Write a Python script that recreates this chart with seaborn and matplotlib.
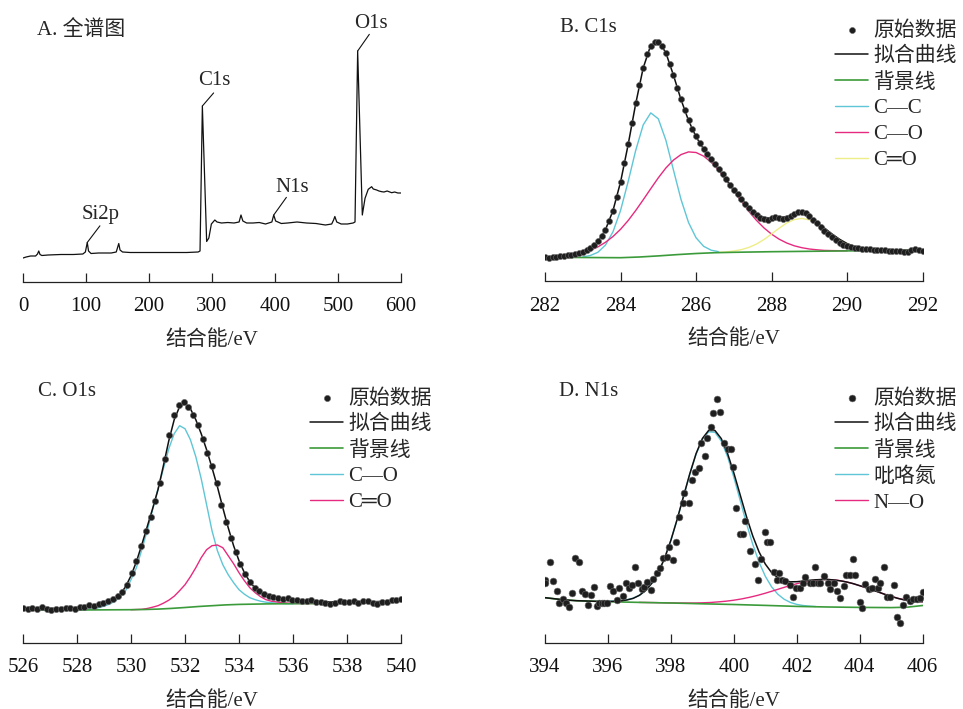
import numpy as np
import matplotlib
matplotlib.use('Agg')
import matplotlib.pyplot as plt
import seaborn as sns

# ---------------- A. survey spectrum (binding energy / eV, intensity a.u.) ----------------
survey_ev = [0, 5, 12, 20, 23, 25, 27, 30, 40, 60, 80, 95, 99, 102, 104, 108, 120, 140, 148, 152,
             154, 158, 170, 200, 230, 260, 278, 281, 284.7, 291.5, 295, 299, 304.5, 308, 315, 325,
             335, 343, 346, 349, 355, 365, 375, 385, 395, 398, 401, 410, 420, 435, 450, 465, 480,
             490, 493, 495, 498, 505, 515, 524, 527, 531.2, 538.6, 542.9, 548, 553.4, 556, 561.4,
             565, 569.4, 573, 578, 585.2, 590, 595, 600]
survey_int = [24, 25, 26, 26, 28, 31, 27.5, 26.5, 27, 27.5, 27.5, 28, 30, 39.5, 31, 28.5, 29, 29, 30, 38.5,
              32, 30, 29.5, 29.5, 29.5, 29.5, 30, 31, 176, 40.5, 44, 58, 62, 60, 59, 59.5,
              59, 60, 67, 61, 59, 59, 59.5, 58, 60, 67, 61, 58.5, 59, 60, 59, 58.5, 57,
              58, 62, 65.5, 60, 58, 58, 59, 60, 231, 67, 83.7, 92.7, 95.3, 93, 92,
              91, 90.3, 90, 91, 89.3, 90, 89, 89]
survey_peaks = {'Si2p': 102, 'C1s': 284.7, 'N1s': 398, 'O1s': 531.2}

# ---------------- B. C1s ----------------
c1s_ev = np.round(np.arange(282.0, 292.01, 0.1), 2)
c1s_raw = [24.0, 23.5, 24.6, 24.2, 25.5, 25.0, 26.3, 26.8, 27.8, 28.0,
           29.6, 31.0, 33.5, 36.0, 40.5, 45.0, 51.0, 60.0, 70.0, 84.0,
           99.0, 118.0, 137.0, 158.0, 178.0, 197.0, 214.0, 228.0, 236.0, 240.0,
           239.5, 236.0, 229.0, 218.0, 207.0, 194.0, 182.0, 171.0, 161.0, 152.0,
           145.0, 138.5, 132.5, 127.0, 122.0, 117.0, 112.0, 107.0, 102.0, 96.5,
           91.5, 87.0, 82.0, 77.5, 73.0, 69.5, 66.5, 63.5, 62.0, 61.5,
           63.0, 64.0, 63.0, 62.0, 63.5, 65.5, 67.5, 69.0, 69.5, 68.0,
           65.0, 61.5, 58.5, 54.0, 50.5, 47.0, 44.0, 41.0, 38.5, 36.5,
           35.5, 34.0, 33.5, 33.0, 32.5, 32.0, 32.3, 31.5, 31.8, 31.0,
           31.3, 30.5, 30.8, 30.0, 30.4, 29.5, 29.8, 31.5, 32.0, 31.0,
           30.5]
c1s_fit_ev = np.round(np.arange(282.0, 292.01, 0.2), 2)
c1s_fit = [24.6, 24.9, 25.3, 26.1, 27.3, 29.4, 33.3, 39.9, 51.7, 70.9,
           99.4, 136.6, 177.5, 213.6, 236.3, 240.8, 228.7, 206.4, 182.0, 161.0,
           144.7, 132.3, 122.0, 112.1, 101.9, 91.8, 82.6, 74.0, 67.5, 64.0,
           63.5, 64.0, 65.0, 67.0, 67.8, 65.0, 59.3, 53.4, 47.5, 42.2,
           37.9, 34.9, 33.0, 31.9, 31.4, 31.2, 31.1, 31.2, 31.2, 31.3,
           31.4]
c1s_bg_ev = [282, 283, 284, 284.5, 285, 285.5, 286, 286.5, 287, 288, 289, 290, 291, 292]
c1s_bg = [24.2, 24.0, 23.8, 24.5, 25.6, 26.9, 28.0, 28.8, 29.2, 29.8, 30.2, 30.6, 31.0, 31.4]
c1s_cc_ev = np.round(np.arange(283.0, 286.61, 0.2), 2)
c1s_cc = [24.6, 26.0, 29.2, 36.4, 49.7, 71.0, 99.7, 130.9, 156.6, 168.6,
          162.7, 141.3, 111.6, 82.2, 59.0, 43.7, 35.2, 31.3, 29.8]
c1s_co_ev = np.round(np.arange(282.0, 290.01, 0.2), 2)
c1s_co = [24.6, 24.9, 25.3, 26.0, 27.1, 28.8, 31.2, 34.6, 39.2, 45.0,
          52.2, 60.9, 70.9, 81.7, 92.8, 103.7, 113.5, 121.4, 126.9, 129.6,
          129.0, 125.4, 119.2, 110.9, 101.0, 90.5, 80.0, 70.0, 61.1, 53.5,
          47.3, 42.3, 38.5, 35.7, 33.8, 32.5, 31.7, 31.1, 30.9, 30.8, 30.7]
c1s_cdo_ev = np.round(np.arange(286.6, 292.01, 0.2), 2)
c1s_cdo = [29.2, 29.6, 30.5, 31.9, 34.1, 37.5, 42.0, 47.6, 53.3, 58.5,
           61.9, 63.1, 61.6, 57.9, 52.6, 47.0, 41.9, 37.8, 34.9, 33.0,
           32.0, 31.4, 31.2, 31.2, 31.2, 31.3, 31.3, 31.4]

# ---------------- C. O1s ----------------
o1s_ev = np.round(np.linspace(526.0, 540.0, 81), 3)
o1s_raw = [34.5, 33.5, 35.0, 34.0, 35.5, 34.0, 33.0, 34.0, 33.5, 34.5,
           35.0, 34.0, 35.5, 36.0, 37.5, 37.0, 38.5, 40.0, 41.5, 43.5,
           46.5, 51.0, 58.0, 70.0, 82.0, 97.0, 112.0, 126.0, 142.0, 160.0,
           184.0, 208.0, 228.0, 238.0, 241.0, 236.0, 228.0, 218.0, 204.0, 190.0,
           177.0, 160.0, 138.0, 121.0, 105.0, 91.0, 79.0, 69.0, 61.0, 55.0,
           51.5, 48.5, 47.0, 46.0, 45.0, 44.0, 44.5, 42.5, 43.0, 42.0,
           41.5, 42.5, 40.5, 41.0, 39.5, 38.5, 40.0, 41.5, 40.5, 41.0,
           42.0, 40.0, 41.5, 42.0, 39.5, 38.5, 40.5, 41.0, 42.5, 43.0,
           43.5]
o1s_fit_ev = [526.0, 527.0, 528.0, 528.5, 529.0, 529.4, 529.6, 529.8, 530.0, 530.2,
              530.4, 530.6, 530.8, 531.0, 531.2, 531.4, 531.6, 531.8, 532.0, 532.2,
              532.4, 532.6, 532.8, 533.0, 533.2, 533.4, 533.6, 533.8, 534.0, 534.2,
              534.4, 534.6, 534.8, 535.0, 535.4, 536.0, 537.0, 538.0, 539.0, 539.5, 540.0]
o1s_fit = [34.0, 34.2, 35.2, 36.8, 39.5, 44.0, 48.5, 56.0, 67.0, 81.0,
           98.0, 116.0, 134.0, 153.0, 177.0, 202.0, 223.0, 236.0, 239.5, 234.0,
           223.0, 209.0, 193.0, 175.0, 156.0, 135.0, 115.0, 97.0, 82.0, 70.0,
           61.0, 54.5, 50.0, 47.0, 44.5, 42.5, 41.0, 40.8, 41.0, 41.5, 42.5]
o1s_bg_ev = [526.0, 528.0, 530.0, 530.5, 531.0, 531.5, 532.0, 532.5, 533.0, 533.5,
             534.0, 535.0, 536.0, 537.0, 538.0, 539.0, 539.5, 540.0]
o1s_bg = [32.5, 32.7, 33.0, 33.2, 33.6, 34.3, 35.2, 36.2, 37.0, 37.8,
          38.3, 38.8, 39.0, 39.2, 39.4, 39.7, 40.3, 41.5]
o1s_co_ev = [528.0, 528.4, 528.8, 529.0, 529.2, 529.4, 529.6, 529.8, 530.0, 530.2,
             530.4, 530.6, 530.8, 531.0, 531.2, 531.4, 531.6, 531.8, 532.0, 532.2,
             532.4, 532.6, 532.8, 533.0, 533.2, 533.4, 533.6, 533.8, 534.0, 534.2,
             534.4, 534.6, 534.8, 535.0, 535.4, 535.8, 536.0]
o1s_co = [32.8, 33.2, 35.0, 36.5, 38.5, 41.5, 45.5, 52, 63, 75,
          93, 112, 133, 154, 174, 194, 209, 217, 214, 203,
          186, 164, 138, 112, 92, 78, 68, 60, 53, 48.5,
          45, 43, 41.5, 40.5, 39.5, 39.0, 39.0]
o1s_cdo_ev = [530.0, 530.4, 530.6, 530.8, 531.0, 531.2, 531.4, 531.6, 531.8, 532.0,
              532.2, 532.4, 532.6, 532.8, 533.0, 533.2, 533.4, 533.6, 533.8, 534.0,
              534.2, 534.4, 534.6, 534.8, 535.0, 535.2, 535.6, 536.0, 536.4, 537.0]
o1s_cdo = [33.0, 33.4, 34.2, 35.5, 37.0, 39.5, 42.5, 46.5, 52, 58,
           66, 75, 85, 93, 97, 97.7, 95, 87, 79, 70,
           62, 55, 50, 46, 43, 41.5, 40, 39.3, 39.2, 39.2]

# ---------------- D. N1s ----------------
n1s_ev = [394.00, 394.01, 394.16, 394.27, 394.37, 394.46, 394.56, 394.67, 394.77, 394.85,
          394.95, 395.08, 395.17, 395.27, 395.36, 395.45, 395.56, 395.66, 395.73, 395.80,
          395.88, 395.96, 396.07, 396.17, 396.28, 396.36, 396.47, 396.58, 396.68, 396.76,
          396.86, 396.97, 397.07, 397.15, 397.25, 397.37, 397.44, 397.55, 397.64, 397.76,
          397.87, 397.95, 398.06, 398.17, 398.27, 398.38, 398.43, 398.56, 398.67, 398.77,
          398.88, 398.96, 399.07, 399.16, 399.28, 399.35, 399.46, 399.57, 399.69, 399.83,
          399.91, 399.97, 400.07, 400.20, 400.28, 400.36, 400.50, 400.68, 400.77, 400.87,
          400.98, 401.05, 401.16, 401.28, 401.37, 401.45, 401.53, 401.63, 401.77, 401.88,
          401.98, 402.09, 402.20, 402.27, 402.43, 402.52, 402.59, 402.67, 402.75, 402.85,
          402.98, 403.07, 403.17, 403.28, 403.38, 403.49, 403.57, 403.68, 403.79, 403.86,
          404.00, 404.07, 404.18, 404.28, 404.39, 404.47, 404.58, 404.65, 404.78, 404.87,
          404.97, 405.08, 405.19, 405.27, 405.37, 405.48, 405.59, 405.70, 405.82, 405.93,
          406.00]
n1s_raw = [63.0, 60.5, 81.3, 62.3, 52.3, 40.3, 43.7, 39.7, 35.7, 50.3,
           84.7, 81.3, 52.3, 49.0, 38.0, 48.0, 55.7, 37.3, 40.0, 39.7,
           40.5, 39.7, 57.0, 52.3, 43.0, 54.7, 47.0, 60.3, 54.7, 58.0,
           75.7, 59.7, 53.7, 56.3, 61.3, 53.0, 63.7, 70.3, 74.7, 84.7,
           85.7, 95.7, 83.0, 101.3, 126.3, 140.3, 149.7, 140.3, 163.0, 171.3,
           174.7, 199.7, 187.0, 204.7, 216.3, 230.3, 243.7, 231.3, 200.3, 194.0,
           194.0, 176.3, 134.7, 108.7, 108.7, 122.3, 92.0, 78.7, 63.0, 83.7,
           111.3, 101.3, 101.3, 71.3, 63.5, 69.7, 63.0, 62.3, 58.0, 45.7,
           55.0, 54.7, 60.3, 65.7, 59.7, 60.0, 76.3, 59.7, 59.7, 67.0,
           59.7, 53.7, 59.7, 52.3, 44.7, 57.0, 68.0, 68.5, 83.7, 68.0,
           41.3, 34.7, 58.7, 53.7, 54.7, 63.7, 55.0, 59.7, 76.3, 46.3,
           46.3, 58.0, 26.3, 20.3, 38.0, 46.3, 42.3, 43.7, 43.7, 44.7,
           51.3]
n1s_fit_ev = np.round(np.arange(394.0, 406.01, 0.2), 2)
n1s_fit = [45.3, 44.6, 43.9, 43.2, 42.7, 42.3, 42.1, 41.9, 41.7, 41.5,
           41.5, 41.7, 42.1, 43.0, 44.6, 47.7, 52.6, 60.0, 70.5, 84.8,
           102.8, 123.8, 146.6, 169.2, 189.4, 204.5, 212.6, 212.5, 204.4, 189.5,
           170.0, 148.2, 126.5, 107.1, 91.1, 78.9, 70.4, 65.2, 62.3, 61.2,
           61.3, 61.9, 62.7, 63.2, 63.5, 63.5, 63.0, 62.1, 60.9, 59.3,
           57.3, 55.3, 53.1, 50.9, 48.6, 46.6, 44.7, 43.2, 42.0, 41.5,
           41.3]
n1s_bg_ev = [394.0, 394.5, 395.0, 396.0, 397.0, 398.0, 399.0, 400.0, 401.0, 402.0,
             403.0, 404.0, 405.0, 405.5, 406.0]
n1s_bg = [45.3, 43.5, 42.3, 41.3, 40.6, 40.0, 39.2, 38.5, 37.6, 36.6,
          36.0, 35.6, 35.4, 35.8, 37.5]
n1s_pyr_ev = np.round(np.arange(396.0, 402.61, 0.2), 2)
n1s_pyr = [41.8, 42.0, 42.4, 43.3, 44.9, 47.7, 52.6, 60.0, 70.6, 84.8,
           102.7, 123.7, 146.4, 168.9, 188.8, 203.5, 211.2, 210.7, 201.9, 186.3,
           165.7, 142.7, 119.7, 98.8, 80.9, 66.7, 56.1, 48.7, 43.7, 40.5,
           38.6, 37.5, 36.9, 36.5]
n1s_no_ev = np.round(np.arange(397.0, 406.01, 0.25), 2)
n1s_no = [40.6, 40.5, 40.4, 40.2, 40.1, 40.0, 40.0, 40.0, 40.2, 40.5,
          41.1, 41.8, 42.8, 44.1, 45.7, 47.6, 49.8, 52.2, 54.7, 57.1,
          59.3, 61.2, 62.6, 63.4, 63.5, 62.9, 61.6, 59.7, 57.3, 54.8,
          52.0, 49.2, 46.6, 44.4, 42.6, 41.5, 41.3]

GREEN = '#3b9b3b'
CYAN = '#5ec6d6'
PINK = '#e62a7f'
YELLOW = '#eeee88'
DOT = '#1e1e1e'

sns.set_style('white')
plt.rcParams['font.family'] = ['Liberation Serif', 'Noto Sans CJK SC']
plt.rcParams['font.size'] = 15

W, H = 963, 709
fig = plt.figure(figsize=(W / 100, H / 100), dpi=100)


def add_panel(left, right, bottom, top):
    ax = fig.add_axes([left / W, 1 - bottom / H, (right - left) / W, (bottom - top) / H])
    ax.set_ylim(0, bottom - top)
    for side in ['top', 'left', 'right']:
        ax.spines[side].set_visible(False)
    ax.spines['bottom'].set_linewidth(0.9)
    ax.spines['bottom'].set_color('#222222')
    ax.set_yticks([])
    ax.tick_params(axis='x', bottom=True, direction='in', length=6.5, width=0.9, pad=11,
                   labelsize=15, colors='#222222', labelcolor='#111111')
    ax.set_xlabel('结合能/eV', fontsize=15, labelpad=10)
    ax.set_ylabel('')
    return ax


def curve(ax, x, y, color, label=None, lw=1.0, z=2):
    sns.lineplot(x=x, y=y, ax=ax, color=color, lw=lw, label=label, zorder=z,
                 estimator=None, sort=False, legend=False)


def dots(ax, x, y, s):
    sns.scatterplot(x=x, y=y, ax=ax, s=s, color=DOT, edgecolor='#6a6a6a',
                    linewidth=0.4, label='原始数据', zorder=5, legend=False)


def panel_legend(ax, order, x_px, top_px):
    h, l = ax.get_legend_handles_labels()
    lookup = dict(zip(l, h))
    ax.legend([lookup[k] for k in order], order, loc='upper left',
              bbox_to_anchor=(x_px / W, 1 - top_px / H), bbox_transform=fig.transFigure,
              frameon=False, borderpad=0, borderaxespad=0, handlelength=1.6,
              handletextpad=0.25, labelspacing=0.3, fontsize=15, scatterpoints=1)


# ---- A ----
axA = add_panel(23, 401, 282, 10)
curve(axA, survey_ev, survey_int, '#111111', lw=0.9)
axA.set_xlim(0, 600)
axA.set_xticks(range(0, 601, 100))
ev_arr = np.array(survey_ev, dtype=float)
int_arr = np.array(survey_int, dtype=float)
label_offsets = {'Si2p': ((9.1, 12.0), (9.9, 16.7)),
                 'C1s': ((8.1, 9.4), (8.5, 15.1)),
                 'N1s': ((9.1, 12.7), (13.3, 16.8)),
                 'O1s': ((8.4, 12.0), (9.5, 16.8))}
for name, e0 in survey_peaks.items():
    win = np.abs(ev_arr - e0) <= 4
    i = np.argmax(np.where(win, int_arr, -np.inf))
    xy = (ev_arr[i], int_arr[i])
    lead, txt = label_offsets[name]
    axA.annotate('', xy=xy, xytext=lead, textcoords='offset points',
                 arrowprops=dict(arrowstyle='-', lw=0.8, color='#111111', shrinkA=0, shrinkB=0))
    axA.annotate(name, xy=xy, xytext=txt, textcoords='offset points',
                 ha='center', va='baseline', fontsize=15)

# ---- B ----
axB = add_panel(545, 922.7, 281.5, 10)
curve(axB, c1s_cc_ev, c1s_cc, CYAN, 'C—C')
curve(axB, c1s_co_ev, c1s_co, PINK, 'C—O')
curve(axB, c1s_cdo_ev, c1s_cdo, YELLOW, 'C═O')
curve(axB, c1s_bg_ev, c1s_bg, GREEN, '背景线', lw=1.2, z=3)
curve(axB, c1s_fit_ev, c1s_fit, '#111111', '拟合曲线', lw=1.1, z=4)
dots(axB, c1s_ev, c1s_raw, 19)
axB.set_xlim(282, 292)
axB.set_xticks(range(282, 293, 2))
panel_legend(axB, ['原始数据', '拟合曲线', '背景线', 'C—C', 'C—O', 'C═O'], 835, 21)

# ---- C ----
axC = add_panel(23, 401, 642.7, 372)
curve(axC, o1s_co_ev, o1s_co, CYAN, 'C—O')
curve(axC, o1s_cdo_ev, o1s_cdo, PINK, 'C═O')
curve(axC, o1s_bg_ev, o1s_bg, GREEN, '背景线', lw=1.2, z=3)
curve(axC, o1s_fit_ev, o1s_fit, '#111111', '拟合曲线', lw=1.1, z=4)
dots(axC, o1s_ev, o1s_raw, 20)
axC.set_xlim(526, 540)
axC.set_xticks(range(526, 541, 2))
panel_legend(axC, ['原始数据', '拟合曲线', '背景线', 'C—O', 'C═O'], 310, 389)

# ---- D ----
axD = add_panel(545, 922.7, 643, 372)
curve(axD, n1s_pyr_ev, n1s_pyr, CYAN, '吡咯氮')
curve(axD, n1s_no_ev, n1s_no, PINK, 'N—O')
curve(axD, n1s_bg_ev, n1s_bg, GREEN, '背景线', lw=1.2, z=3)
curve(axD, n1s_fit_ev, n1s_fit, '#111111', '拟合曲线', lw=1.1, z=4)
dots(axD, n1s_ev, n1s_raw, 24)
axD.set_xlim(394, 406)
axD.set_xticks(range(394, 407, 2))
panel_legend(axD, ['原始数据', '拟合曲线', '背景线', '吡咯氮', 'N—O'], 835, 389)

# ---- panel titles ----
for label, (px, py) in {'A. 全谱图': (37, 30), 'B. C1s': (560, 28),
                        'C. O1s': (38, 391), 'D. N1s': (559, 391)}.items():
    fig.text(px / W, 1 - py / H, label, ha='left', va='center', fontsize=15)

fig.savefig('out.png', dpi=100)
